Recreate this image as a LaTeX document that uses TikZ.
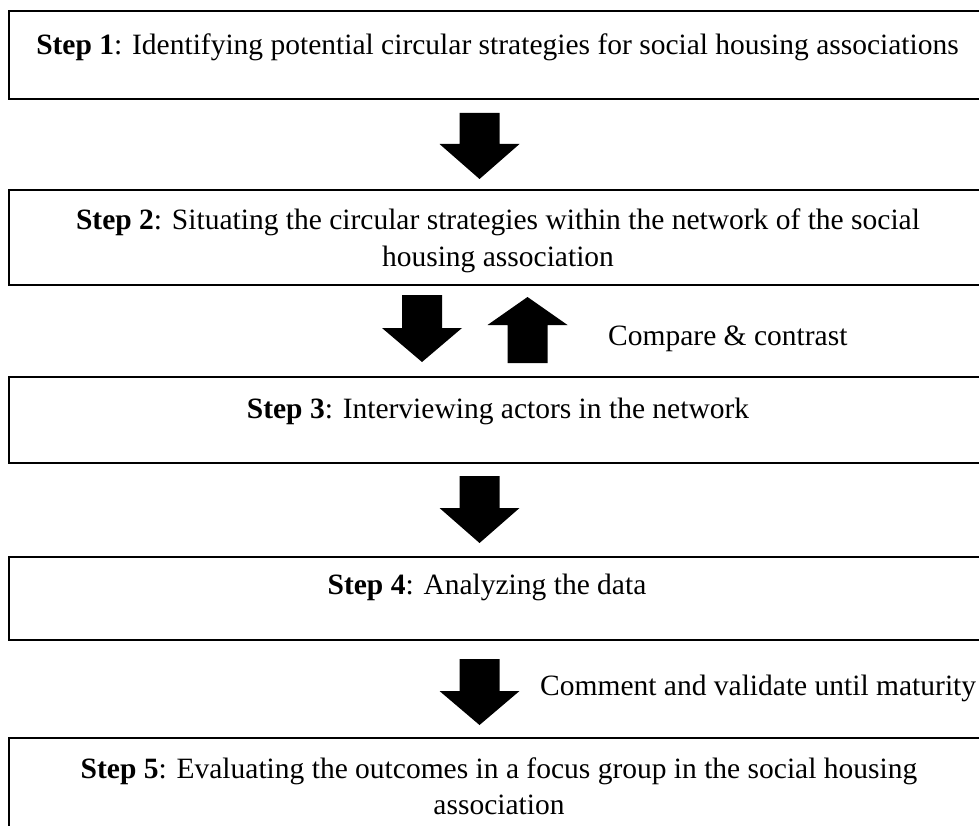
\documentclass[tikz,border=0pt]{standalone}
\usepackage{fontspec}
\setmainfont{Liberation Serif}
\begin{document}
\begin{tikzpicture}[x=1pt,y=-1pt,
  stepbox/.style={draw=black, line width=2.6pt, minimum width=977pt, inner sep=0pt},
  steptext/.style={anchor=base, inner sep=0pt, font=\fontsize{29.5}{36}\selectfont},
  sidetext/.style={anchor=base west, inner sep=0pt, font=\fontsize{29.5}{36}\selectfont}]
\useasboundingbox (0,0) rectangle (979,826);
\clip (0,0) rectangle (979,826);
% block arrow: #1 centre x, #2 shaft end y, #3 head base y, #4 tip y
\newcommand\blockarrow[4]{%
  \fill[black] (#1-20,#2) -- (#1+20,#2) -- (#1+20,#3) -- (#1+40,#3) -- (#1,#4)
    -- (#1-40,#3) -- (#1-20,#3) -- cycle;}
% process boxes
\node[stepbox, minimum height=88pt] (s1) at (497.5,55) {};
\node[stepbox, minimum height=95pt] (s2) at (497.5,237.5) {};
\node[stepbox, minimum height=86pt] (s3) at (497.5,420) {};
\node[stepbox, minimum height=83pt] (s4) at (497.5,598.5) {};
\node[stepbox, minimum height=97pt] (s5) at (497.5,786.5) {};
% box texts
\node[steptext] (t1) at (497.5,55) {\textbf{Step 1}: Identifying potential circular strategies for social housing associations};
\node[steptext] (t2a) at (498,230) {\textbf{Step 2}: Situating the circular strategies within the network of the social};
\node[steptext] (t2b) at (498,266) {housing association};
\node[steptext] (t3) at (498,418) {\textbf{Step 3}: Interviewing actors in the network};
\node[steptext] (t4) at (487,594) {\textbf{Step 4}: Analyzing the data};
\node[steptext] (t5a) at (499,778) {\textbf{Step 5}: Evaluating the outcomes in a focus group in the social housing};
\node[steptext] (t5b) at (499,814) {association};
% block arrows between the boxes
\blockarrow{479.5}{113}{144}{179}
\blockarrow{422}{295}{328}{362}
\blockarrow{527.5}{363}{325}{297}
\blockarrow{479.5}{476}{508}{543}
\blockarrow{479.5}{659}{691}{725}
% side labels
\node[sidetext] (c1) at (608,345) {Compare \& contrast};
\node[sidetext] (c2) at (540,695) {Comment and validate until maturity};
\end{tikzpicture}
\end{document}
